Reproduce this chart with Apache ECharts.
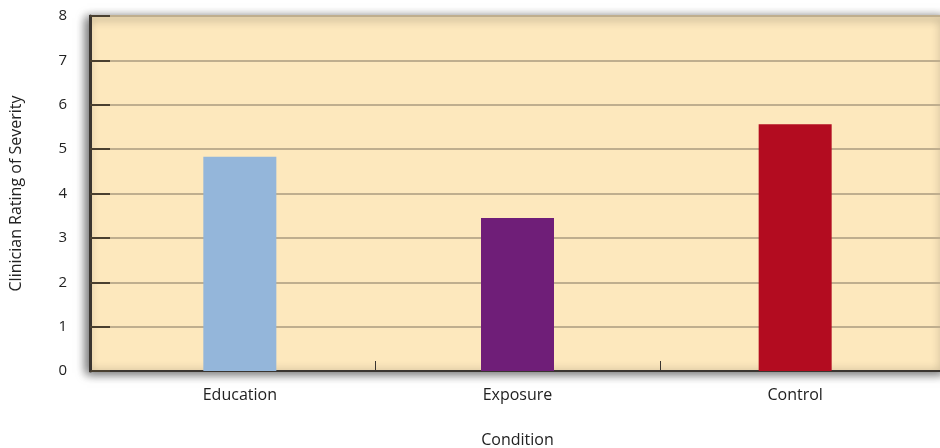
<!DOCTYPE html>
<html><head><meta charset="utf-8">
<script src="https://cdn.jsdelivr.net/npm/echarts@6/dist/echarts.min.js"></script>
<style>html,body{margin:0;padding:0;background:#fff}#c{width:940px;height:448px}</style>
</head><body><div id="c"></div>
<script>
const categories = ["Education", "Exposure", "Control"];
const severity = [4.83, 3.45, 5.56];
const yTicks = [0, 1, 2, 3, 4, 5, 6, 7, 8];

const barColors = ["#94b6da", "#6f1e78", "#b30c20"];
const chart = echarts.init(document.getElementById('c'));
const font = "'Open Sans', 'Noto Sans', sans-serif";
const yMin = yTicks[0], yMax = yTicks[yTicks.length - 1];
chart.setOption({
  animation: false,
  grid: [{
    left: 90, right: -6, top: 16, bottom: 77,
    outerBoundsMode: 'none', containLabel: false,
    show: true, backgroundColor: '#fde8bd',
    borderColor: '#3a3530', borderWidth: 2,
    shadowColor: 'rgba(0,0,0,0.6)', shadowBlur: 10, shadowOffsetX: -3, shadowOffsetY: 2
  }, {
    left: 101, right: 6, top: 16, bottom: 77,
    outerBoundsMode: 'none', containLabel: false, show: false
  }],
  xAxis: [{
    gridIndex: 0, type: 'category', data: categories,
    axisLine: { lineStyle: { color: '#3a3530', width: 2 } },
    axisTick: { show: true, inside: true, length: 10, lineStyle: { color: '#3a3530', width: 1 } },
    axisLabel: { show: false }
  }, {
    gridIndex: 1, type: 'category', data: categories,
    name: 'Condition', nameLocation: 'middle', nameGap: 61,
    nameTextStyle: { fontFamily: font, fontSize: 16, color: '#222' },
    axisLine: { show: false }, axisTick: { show: false },
    axisLabel: { fontFamily: font, fontSize: 16, color: '#222', margin: 16 }
  }],
  yAxis: [{
    gridIndex: 0, type: 'value', min: yMin, max: yMax, interval: 1,
    name: 'Clinician Rating of Severity', nameLocation: 'middle', nameGap: 66, nameRotate: 90,
    nameTextStyle: { fontFamily: font, fontSize: 16, color: '#222' },
    axisLine: { show: true, lineStyle: { color: '#3a3530', width: 3 } },
    axisTick: { show: true, inside: true, length: 20, lineStyle: { color: '#4a4030', width: 2 } },
    axisLabel: { fontFamily: font, fontSize: 15, color: '#222', margin: 23 },
    splitLine: { show: true, lineStyle: { color: '#bfae8e', width: 2 } }
  }, {
    gridIndex: 1, type: 'value', min: yMin, max: yMax, interval: 1, show: false,
    splitLine: { show: false }
  }],
  series: [{
    type: 'bar', xAxisIndex: 1, yAxisIndex: 1, barWidth: 73,
    data: severity.map((v, i) => ({ value: v, itemStyle: { color: barColors[i] } }))
  }]
});
</script></body></html>
